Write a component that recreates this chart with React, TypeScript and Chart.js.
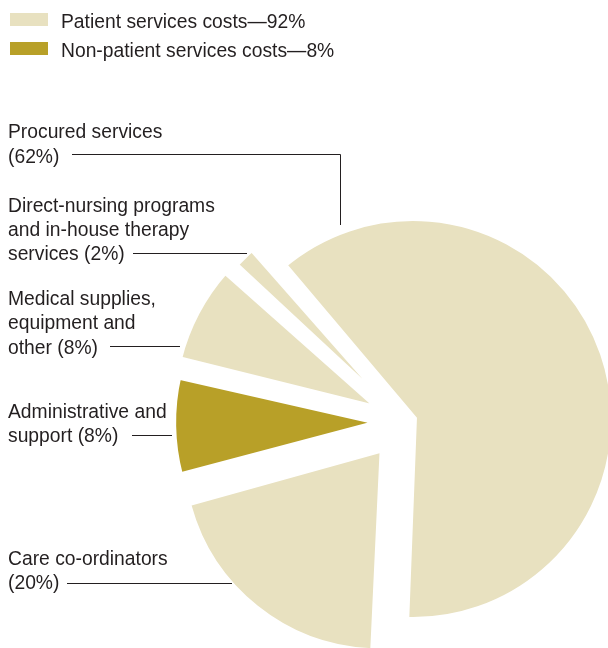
import React, { useEffect, useRef } from "react";
import { Chart, ArcElement, PieController } from "chart.js";

Chart.register(ArcElement, PieController);

// ---- data ----
const categories = [
  "Procured services",
  "Care co-ordinators",
  "Administrative and support",
  "Medical supplies, equipment and other",
  "Direct-nursing programs and in-house therapy services",
];
const shares = [62, 20, 8, 8, 2];
const isPatient = [true, true, false, true, true];

const legendLabels = ["Patient services costs—92%", "Non-patient services costs—8%"];

const labelLines = [
  ["Procured services", `(${shares[0]}%)`],
  ["Care co-ordinators", `(${shares[1]}%)`],
  ["Administrative and", `support (${shares[2]}%)`],
  ["Medical supplies,", "equipment and", `other (${shares[3]}%)`],
  ["Direct-nursing programs", "and in-house therapy", `services (${shares[4]}%)`],
];

// ---- style ----
const BEIGE = "#E8E1C0";
const GOLD = "#B8A028";
const TEXT = "#231F20";
const FONT = '19.3px "Liberation Sans", Arial, sans-serif';
const legendColors = [BEIGE, GOLD];
const sliceColors = isPatient.map((p) => (p ? BEIGE : GOLD));
const explode = [35.8, 160.4, 100.7, 110, 78.8];
const gapBorder = [7.9, 0, 5.7, 5.8, 4.1];
const joinStyles = ["miter", "bevel", "bevel", "bevel", "bevel"];

const legendBoxTop = [13, 42];
const legendBaseline = [27.5, 56.5];
const labelFirstBaseline = [138.3, 565, 417.6, 305, 211.6];
const LINE_H = 24.4;
const leaders = [
  [[72, 154.5], [340.5, 154.5], [340.5, 225]],
  [[67, 583.5], [232, 583.5]],
  [[132, 435.5], [172, 435.5]],
  [[110, 346.5], [180, 346.5]],
  [[133, 253.5], [247, 253.5]],
];

const annotationPlugin = {
  id: "annotations",
  afterDraw(chart: any) {
    const ctx = chart.ctx as CanvasRenderingContext2D;
    ctx.save();
    ctx.font = FONT;
    ctx.textBaseline = "alphabetic";
    ctx.textAlign = "left";
    legendLabels.forEach((t, i) => {
      ctx.fillStyle = legendColors[i];
      ctx.fillRect(10, legendBoxTop[i], 38, 13);
      ctx.fillStyle = TEXT;
      ctx.fillText(t, 61, legendBaseline[i]);
    });
    labelLines.forEach((lines, i) => {
      ctx.fillStyle = TEXT;
      lines.forEach((line, j) => {
        ctx.fillText(line, 8, labelFirstBaseline[i] + j * LINE_H);
      });
      ctx.strokeStyle = TEXT;
      ctx.lineWidth = 1;
      ctx.beginPath();
      leaders[i].forEach(([x, y], k) => {
        if (k === 0) ctx.moveTo(x, y);
        else ctx.lineTo(x, y);
      });
      ctx.stroke();
    });
    ctx.restore();
  },
};

export default function App() {
  const canvasRef = useRef<HTMLCanvasElement | null>(null);

  useEffect(() => {
    const canvas = canvasRef.current;
    if (!canvas) return;
    const chart = new Chart(canvas, {
      type: "pie",
      data: {
        labels: categories,
        datasets: [
          {
            data: shares,
            backgroundColor: sliceColors,
            borderColor: "#FFFFFF",
            borderWidth: gapBorder,
            borderJoinStyle: joinStyles as any,
            offset: explode,
            hoverOffset: 0,
          } as any,
        ],
      },
      options: {
        responsive: false,
        animation: false,
        events: [],
        rotation: -40.6,
        radius: 193,
        layout: { padding: { left: 201, right: 0, top: 196, bottom: 0 } },
        plugins: { legend: { display: false }, tooltip: { enabled: false } },
      } as any,
      plugins: [annotationPlugin],
    });
    return () => chart.destroy();
  }, []);

  return (
    <div style={{ position: "absolute", left: 0, top: 0, width: 608, height: 648, background: "#fff" }}>
      <canvas ref={canvasRef} width={608} height={648} />
    </div>
  );
}
